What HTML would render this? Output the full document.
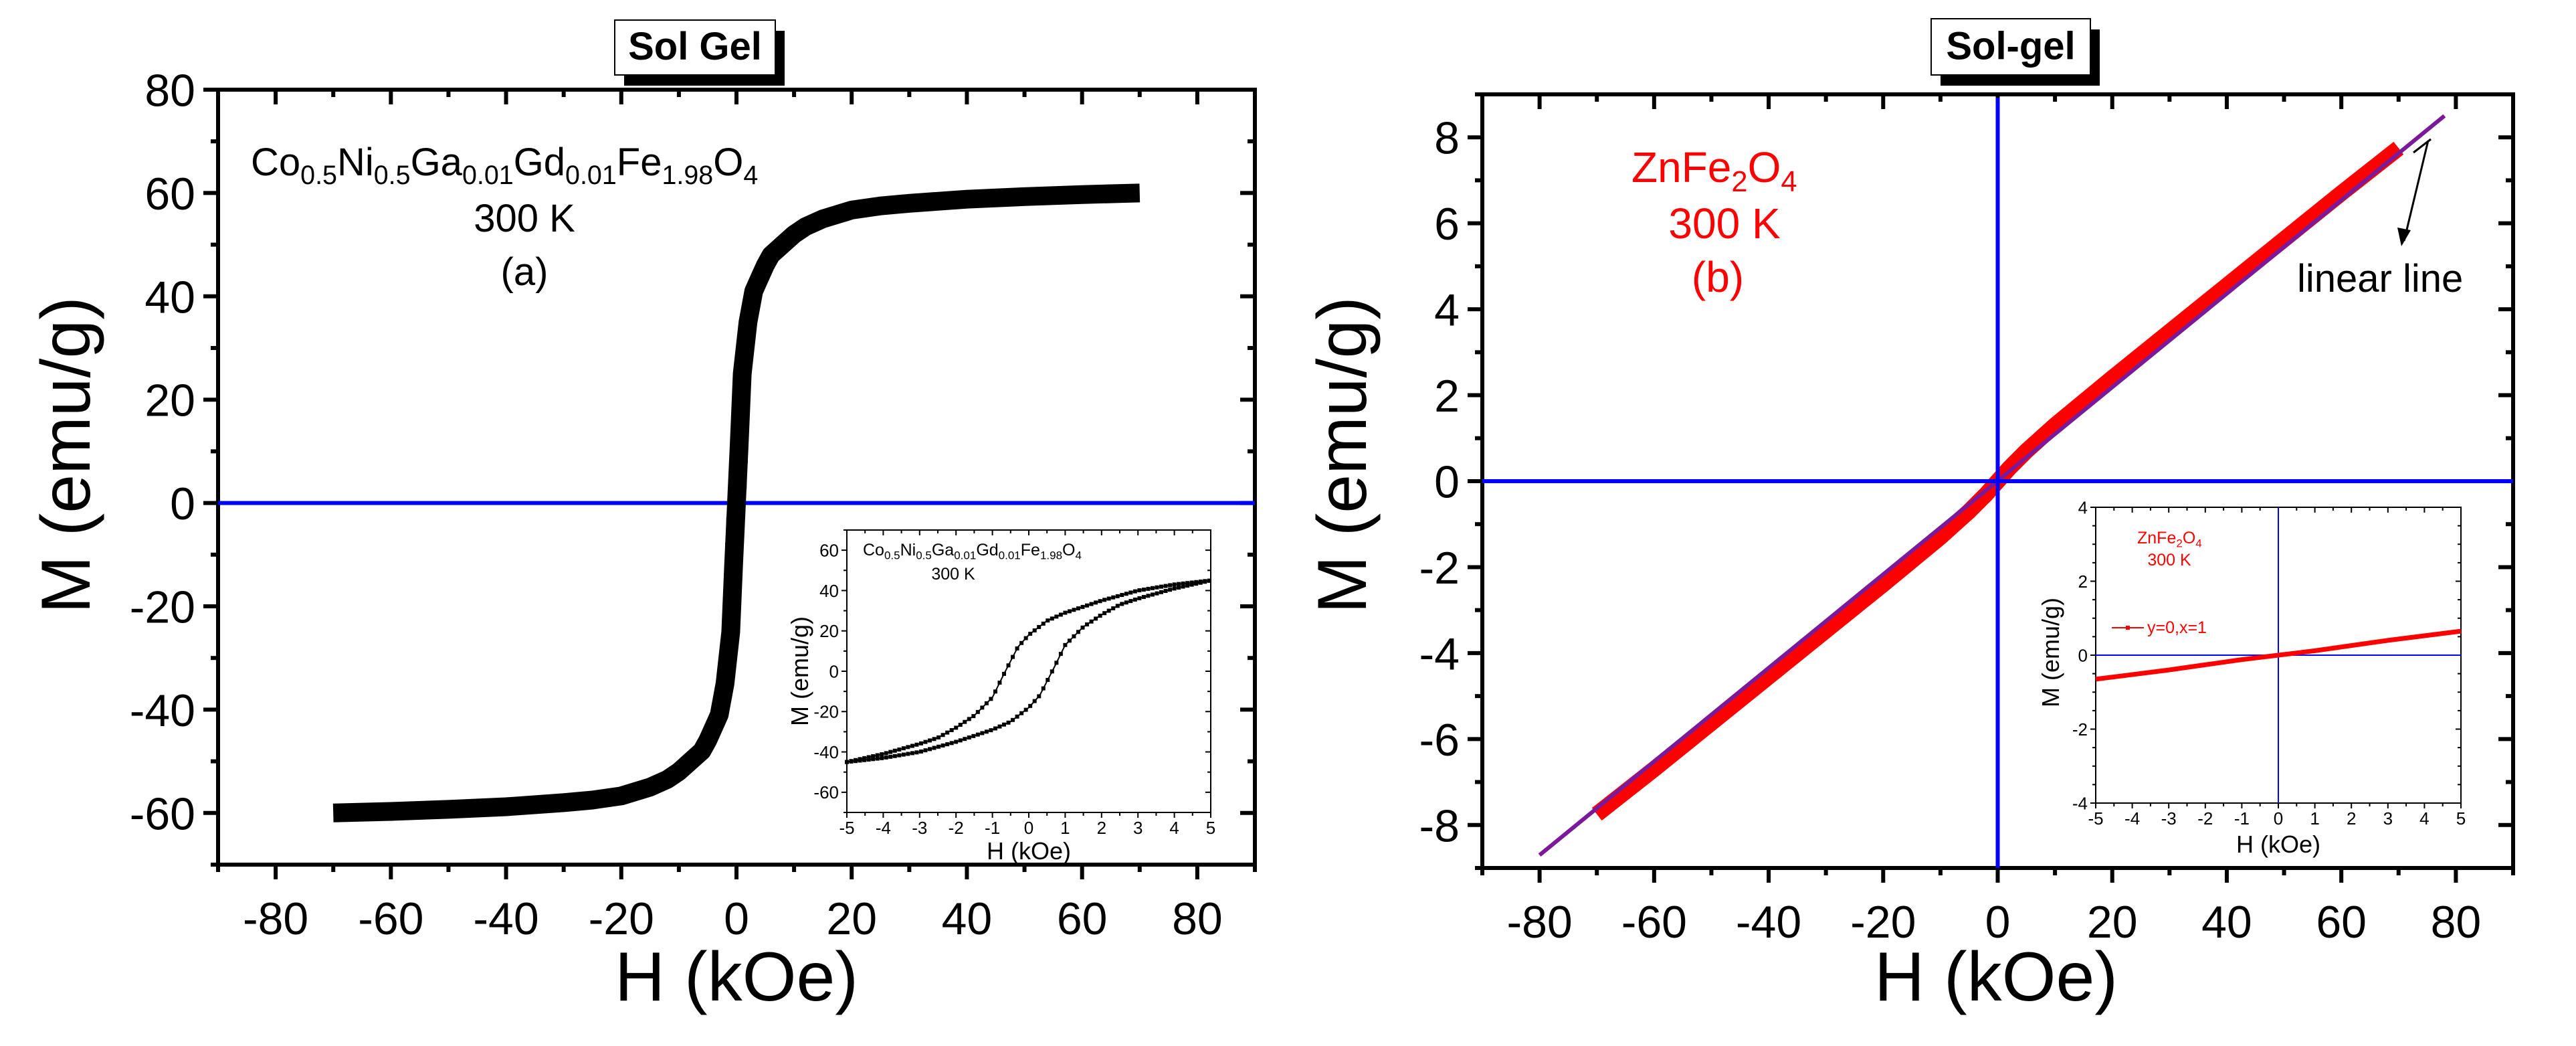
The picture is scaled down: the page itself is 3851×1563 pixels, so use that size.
<!DOCTYPE html>
<html><head><meta charset="utf-8"><style>
html,body{margin:0;padding:0;background:#fff}
svg{display:block;font-family:"Liberation Sans",Arial,sans-serif}
</style></head><body>
<svg id="fig" width="3851" height="1563" viewBox="0 0 3851 1563" xmlns="http://www.w3.org/2000/svg">
<g id="pa"></g>
<g id="pb"></g>
</svg>
<script>
// ---- Panel (a) data ----
const aMainH = [-70,-60,-50,-40,-30,-25,-20,-15,-12,-10,-8,-6,-5,-4,-3,-2,-1.5,-1,-0.5,0,0.5,1,1.5,2,3,4,5,6,8,10,12,15,20,25,30,40,50,60,70];
const aMainM = [-60,-59.7,-59.3,-58.8,-58,-57.5,-56.7,-55,-53.5,-52,-50,-48,-46,-43.5,-41,-35,-30,-25,-12,0,12,25,30,35,41,43.5,46,48,50,52,53.5,55,56.7,57.5,58,58.8,59.3,59.7,60];
const aMarkH = [-1.2,-1,-0.8,-0.6,-0.4,-0.2,0,0.2,0.4,0.6,0.8,1,1.2];
const aMarkM = [-20,-15,-9,-4,-1,2,0,-2,1,4,9,15,20];
const aInsUpH = [5,4,3,2,1.5,1,0.5,0,-0.3,-0.5,-0.7,-1,-1.5,-2,-2.5,-3,-4,-5];
const aInsUpM = [45,43,40,35,32,29,25,18,12,5,-2,-13,-22,-28,-33,-36,-41,-45];
const aXTicks = [-80,-60,-40,-20,0,20,40,60,80];
const aYTicks = [-60,-40,-20,0,20,40,60,80];
const aInsXTicks = [-5,-4,-3,-2,-1,0,1,2,3,4,5];
const aInsYTicks = [-60,-40,-20,0,20,40,60];
// ---- Panel (b) data ----
const bDataH = [-70,-60,-40,-20,-10,-5,-2,0,2,5,10,20,40,60,70];
const bDataM = [-7.75,-6.7,-4.55,-2.4,-1.3,-0.7,-0.3,0,0.3,0.7,1.3,2.4,4.55,6.7,7.75];
const bLinH = [-80,78];
const bLinM = [-8.7,8.5];
const bInsH = [-5,-3,-1,0,1,3,5];
const bInsM = [-0.65,-0.4,-0.12,0,0.12,0.4,0.65];
const bXTicks = [-80,-60,-40,-20,0,20,40,60,80];
const bYTicks = [-8,-6,-4,-2,0,2,4,6,8];
const bInsXTicks = [-5,-4,-3,-2,-1,0,1,2,3,4,5];
const bInsYTicks = [-4,-2,0,2,4];

const NS="http://www.w3.org/2000/svg";
function mk(parent,tag,attrs,text){const e=document.createElementNS(NS,tag);for(const k in attrs)e.setAttribute(k,attrs[k]);if(text!==undefined)e.textContent=text;parent.appendChild(e);return e;}
function lin(d0,d1,p0,p1){return v=>p0+(v-d0)*(p1-p0)/(d1-d0);}

function axes(g,X,Y,x0,x1,y0,y1,xmin,xmax,ymin,ymax,xt,yt,xminor,yminor,o){
  const sw=o.sw, L=o.L, l=o.l;
  const frame=mk(g,'rect',{x:x0,y:y0,width:x1-x0,height:y1-y0,fill:'none',stroke:'#000','stroke-width':sw});
  
  
  for(let v=xmin;v<=xmax+1e-9;v+=xminor){
    const px=X(v);const major=xt.some(t=>Math.abs(t-v)<1e-9);const len=major?L:l;
    const t1=mk(g,'line',{x1:px,y1:y1,x2:px,y2:y1+len,stroke:'#000','stroke-width':sw});
    
    
    const t2=mk(g,'line',{x1:px,y1:y0,x2:px,y2:y0+len,stroke:'#000','stroke-width':sw});
    
    
  }
  for(let v=ymin;v<=ymax+1e-9;v+=yminor){
    const py=Y(v);const major=yt.some(t=>Math.abs(t-v)<1e-9);const len=major?L:l;
    const t1=mk(g,'line',{x1:x0-len,y1:py,x2:x0,y2:py,stroke:'#000','stroke-width':sw});
    
    
    const t2=mk(g,'line',{x1:x1-len,y1:py,x2:x1,y2:py,stroke:'#000','stroke-width':sw});
    
    
  }
  xt.forEach(v=>{const t=mk(g,'text',{x:X(v),y:y1+o.xly,'font-size':o.fs,'text-anchor':'middle'},String(v));
    
    });
  yt.forEach(v=>{const t=mk(g,'text',{x:x0-o.ylx,y:Y(v)+o.fs*0.36,'font-size':o.fs,'text-anchor':'end'},String(v));
    
    });
}
function pts(X,Y,hs,ms){return hs.map((h,i)=>X(h).toFixed(1)+','+Y(ms[i]).toFixed(1)).join(' ');}
function titleBox(g,x,y,w,h,label){
  const s=mk(g,'rect',{x:x+14,y:y+16,width:w,height:h,fill:'#000'});
  
  
  const b=mk(g,'rect',{x:x,y:y,width:w,height:h,fill:'#fff',stroke:'#000','stroke-width':2});
  
  
  const t=mk(g,'text',{x:x+w/2,y:y+h*0.72,'font-size':58,'font-weight':'bold','text-anchor':'middle'},label);
  
  
}
function sub(g,x,y,fs,parts,fill,anchor){
  const t=mk(g,'text',{x:x,y:y,'font-size':fs,fill:fill,'text-anchor':anchor||'start'});
  parts.forEach(p=>{const ts=mk(t,'tspan',{},p[0]);if(p[1]){ts.setAttribute('font-size',fs*0.68);ts.setAttribute('dy',fs*0.22);}else if(p[2]){ts.setAttribute('dy',-fs*0.22);}});
  return t;
}

// ===== Panel A =====
(function(){
  const g=document.getElementById('pa');
  const x0=326,x1=1876,y0=134,y1=1292;
  const X=lin(-90,90,x0,x1), Y=lin(-70,80,y1,y0);
  titleBox(g,919,30,240,82,'Sol Gel');
  axes(g,X,Y,x0,x1,y0,y1,-90,90,-70,80,aXTicks,aYTicks,10,10,{sw:6,L:22,l:11,fs:68,xly:104,ylx:34});
  const z=mk(g,'line',{x1:x0,y1:Y(0),x2:x1,y2:Y(0),stroke:'#0000ff','stroke-width':6});
  
  
  const c=mk(g,'polyline',{points:pts(X,Y,aMainH,aMainM),fill:'none',stroke:'#000','stroke-width':28,'stroke-linejoin':'round'});
  
  
  aMarkH.forEach((h,i)=>{const r=mk(g,'rect',{x:X(h)-10,y:Y(aMarkM[i])-10,width:20,height:20,fill:'#000'});
    
    });
  const t1=sub(g,375,262,58,[['Co'],['0.5',1],['Ni',0,1],['0.5',1],['Ga',0,1],['0.01',1],['Gd',0,1],['0.01',1],['Fe',0,1],['1.98',1],['O',0,1],['4',1]],'#000');
  
  
  const t2=mk(g,'text',{x:784,y:346,'font-size':58,'text-anchor':'middle'},'300 K');
  
  
  const t3=mk(g,'text',{x:784,y:426,'font-size':58,'text-anchor':'middle'},'(a)');
  
  
  const xt=mk(g,'text',{x:1101,y:1495,'font-size':104,'text-anchor':'middle'},'H (kOe)');
  
  
  const yt=mk(g,'text',{x:0,y:0,'font-size':104,'text-anchor':'middle',transform:'translate(134,680) rotate(-90)'},'M (emu/g)');
  
  
  // inset
  const ig=mk(g,'g',{});
  
  
  const ix0=1266,ix1=1810,iy0=792,iy1=1214;
  const IX=lin(-5,5,ix0,ix1), IY=lin(-70,70,iy1,iy0);
  axes(ig,IX,IY,ix0,ix1,iy0,iy1,-5,5,-70,70,aInsXTicks,aInsYTicks,0.5,10,{sw:2,L:8,l:5,fs:26,xly:32,ylx:12});
  const up=mk(ig,'polyline',{points:pts(IX,IY,aInsUpH,aInsUpM),fill:'none',stroke:'#000','stroke-width':2});
  
  
  const lo=mk(ig,'polyline',{points:pts(IX,IY,aInsUpH.map(v=>-v),aInsUpM.map(v=>-v)),fill:'none',stroke:'#000','stroke-width':2});
  
  
  [[aInsUpH,aInsUpM,1],[aInsUpH,aInsUpM,-1]].forEach(([hs,ms,s])=>{
    for(let h=-5;h<=5.001;h+=0.12){
      const hh=s*h;let k=0;while(k<hs.length-2&&!(hh<=hs[k]&&hh>=hs[k+1]))k++;
      const f=(hh-hs[k])/(hs[k+1]-hs[k]);const m=(ms[k]+f*(ms[k+1]-ms[k]))*s;
      const r=mk(ig,'rect',{x:IX(h)-3,y:IY(m)-3,width:6,height:6,fill:'#000'});
      
      
    }
  });
  const f2=sub(ig,1290,830,25,[['Co'],['0.5',1],['Ni',0,1],['0.5',1],['Ga',0,1],['0.01',1],['Gd',0,1],['0.01',1],['Fe',0,1],['1.98',1],['O',0,1],['4',1]],'#000');
  
  
  const f3=mk(ig,'text',{x:1425,y:866,'font-size':25,'text-anchor':'middle'},'300 K');
  
  
  const ixt=mk(ig,'text',{x:1538,y:1284,'font-size':36,'text-anchor':'middle'},'H (kOe)');
  
  
  const iyt=mk(ig,'text',{x:0,y:0,'font-size':36,'text-anchor':'middle',transform:'translate(1208,1003) rotate(-90)'},'M (emu/g)');
  
  
})();

// ===== Panel B =====
(function(){
  const g=document.getElementById('pb');
  const x0=2216,x1=3757,y0=141,y1=1297;
  const X=lin(-90,90,x0,x1), Y=lin(-9,9,y1,y0);
  titleBox(g,2887,28,238,84,'Sol-gel');
  axes(g,X,Y,x0,x1,y0,y1,-90,90,-9,9,bXTicks,bYTicks,10,1,{sw:6,L:22,l:11,fs:68,xly:104,ylx:34});
  const d=mk(g,'polyline',{points:pts(X,Y,bDataH,bDataM),fill:'none',stroke:'#ff0000','stroke-width':24});
  
  
  const l=mk(g,'polyline',{points:pts(X,Y,bLinH,bLinM),fill:'none',stroke:'#7a1a9a','stroke-width':6});
  
  
  const h0=mk(g,'line',{x1:x0,y1:Y(0),x2:x1,y2:Y(0),stroke:'#0000ff','stroke-width':6});
  
  
  const v0=mk(g,'line',{x1:X(0),y1:y0+5,x2:X(0),y2:y1,stroke:'#0000ff','stroke-width':6});
  
  
  const t1=sub(g,2439,272,64,[['ZnFe'],['2',1],['O',0,1],['4',1]],'#ff0000');
  
  
  const t2=mk(g,'text',{x:2578,y:356,'font-size':64,'text-anchor':'middle',fill:'#ff0000'},'300 K');
  
  
  const t3=mk(g,'text',{x:2568,y:436,'font-size':64,'text-anchor':'middle',fill:'#ff0000'},'(b)');
  
  
  const ll=mk(g,'text',{x:3434,y:436,'font-size':58},'linear line');
  
  
  const a1=mk(g,'polyline',{points:'3630,210 3594,360',fill:'none',stroke:'#000','stroke-width':3});
  
  
  mk(g,'polygon',{points:'3590,368 3584,340 3604,344',fill:'#000'});
  const a2=mk(g,'polyline',{points:'3634,208 3608,228',fill:'none',stroke:'#000','stroke-width':3});
  
  
  const xt=mk(g,'text',{x:2984,y:1495,'font-size':104,'text-anchor':'middle'},'H (kOe)');
  
  
  const yt=mk(g,'text',{x:0,y:0,'font-size':104,'text-anchor':'middle',transform:'translate(2042,680) rotate(-90)'},'M (emu/g)');
  
  
  // inset
  const ig=mk(g,'g',{});
  
  
  const ix0=3133,ix1=3679,iy0=758,iy1=1200;
  const IX=lin(-5,5,ix0,ix1), IY=lin(-4,4,iy1,iy0);
  axes(ig,IX,IY,ix0,ix1,iy0,iy1,-5,5,-4,4,bInsXTicks,bInsYTicks,0.5,0.5,{sw:2,L:8,l:5,fs:26,xly:32,ylx:12});
  const ih=mk(ig,'line',{x1:ix0,y1:IY(0),x2:ix1,y2:IY(0),stroke:'#0000ff','stroke-width':2});
  
  
  const iv=mk(ig,'line',{x1:IX(0),y1:iy0,x2:IX(0),y2:iy1,stroke:'#0000ff','stroke-width':2});
  
  
  const ic=mk(ig,'polyline',{points:pts(IX,IY,bInsH,bInsM),fill:'none',stroke:'#ff0000','stroke-width':7});
  
  
  const f1=sub(ig,3195,812,25,[['ZnFe'],['2',1],['O',0,1],['4',1]],'#ff0000');
  
  
  const f2=mk(ig,'text',{x:3243,y:845,'font-size':25,'text-anchor':'middle',fill:'#ff0000'},'300 K');
  
  
  const lg=mk(ig,'line',{x1:3157,y1:938,x2:3205,y2:938,stroke:'#ff0000','stroke-width':2});
  
  
  mk(ig,'rect',{x:3178,y:935,width:6,height:6,fill:'#ff0000'});
  const lt=mk(ig,'text',{x:3210,y:946,'font-size':25,fill:'#ff0000'},'y=0,x=1');
  
  
  const ixt=mk(ig,'text',{x:3406,y:1274,'font-size':36,'text-anchor':'middle'},'H (kOe)');
  
  
  const iyt=mk(ig,'text',{x:0,y:0,'font-size':36,'text-anchor':'middle',transform:'translate(3078,975) rotate(-90)'},'M (emu/g)');
  
  
})();
</script>
</body></html>
